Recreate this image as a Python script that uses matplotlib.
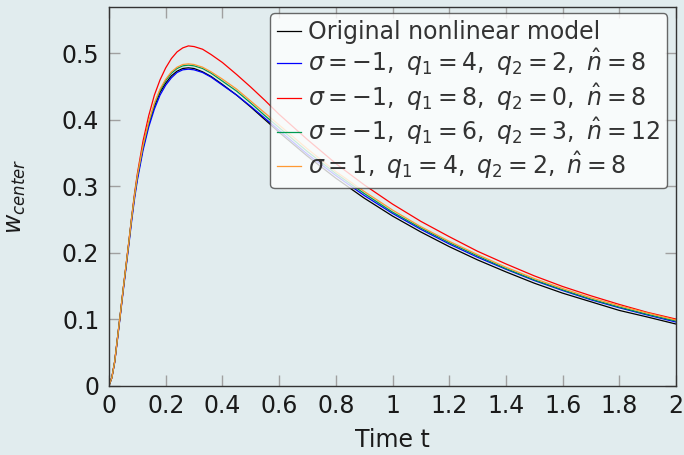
import numpy as np
import matplotlib
matplotlib.use("Agg")
import matplotlib.pyplot as plt

plt.rcParams['font.family'] = ['DejaVu Sans']
plt.rcParams['mathtext.fontset'] = 'dejavusans'

# time samples and w_center values
t = [0, 0.01, 0.02, 0.03, 0.04, 0.05, 0.06, 0.07, 0.08, 0.09, 0.1, 0.12, 0.14, 0.16,
     0.18, 0.2, 0.22, 0.24, 0.26, 0.28, 0.3, 0.33, 0.36, 0.4, 0.45, 0.5, 0.55, 0.6,
     0.7, 0.8, 0.9, 1.0, 1.1, 1.2, 1.3, 1.4, 1.5, 1.6, 1.7, 1.8, 1.9, 2.0]

w_orig = [0, 0.012, 0.036, 0.072, 0.108, 0.145, 0.18, 0.215, 0.252, 0.285, 0.313, 0.358,
          0.393, 0.42, 0.441, 0.455, 0.466, 0.473, 0.477, 0.478, 0.477, 0.472, 0.465,
          0.453, 0.437, 0.419, 0.400, 0.381, 0.345, 0.312, 0.282, 0.255, 0.231, 0.209,
          0.189, 0.171, 0.154, 0.139, 0.126, 0.113, 0.103, 0.0925]
w_a = [0, 0.012, 0.035, 0.07, 0.106, 0.142, 0.177, 0.212, 0.248, 0.281, 0.309, 0.354,
       0.389, 0.416, 0.437, 0.452, 0.463, 0.471, 0.475, 0.476, 0.475, 0.471, 0.464,
       0.452, 0.437, 0.420, 0.402, 0.384, 0.348, 0.316, 0.286, 0.259, 0.235, 0.213,
       0.193, 0.175, 0.158, 0.143, 0.129, 0.117, 0.106, 0.0955]
w_b = [0, 0.012, 0.036, 0.072, 0.108, 0.145, 0.181, 0.217, 0.254, 0.289, 0.319, 0.368,
       0.406, 0.437, 0.46, 0.478, 0.492, 0.502, 0.508, 0.511, 0.510, 0.506, 0.498,
       0.486, 0.468, 0.449, 0.429, 0.408, 0.370, 0.334, 0.302, 0.273, 0.247, 0.224,
       0.202, 0.183, 0.165, 0.149, 0.135, 0.122, 0.110, 0.100]
w_c = [0, 0.012, 0.036, 0.072, 0.108, 0.145, 0.18, 0.216, 0.253, 0.286, 0.315, 0.36,
       0.395, 0.423, 0.444, 0.459, 0.47, 0.477, 0.481, 0.482, 0.481, 0.477, 0.47,
       0.458, 0.443, 0.425, 0.406, 0.388, 0.352, 0.319, 0.289, 0.261, 0.237, 0.215,
       0.195, 0.176, 0.159, 0.144, 0.130, 0.118, 0.107, 0.097]
w_d = [0, 0.012, 0.036, 0.072, 0.108, 0.145, 0.181, 0.216, 0.253, 0.286, 0.316, 0.361,
       0.397, 0.425, 0.446, 0.461, 0.472, 0.479, 0.483, 0.484, 0.483, 0.479, 0.472,
       0.461, 0.446, 0.428, 0.410, 0.392, 0.356, 0.322, 0.292, 0.264, 0.239, 0.217,
       0.197, 0.178, 0.161, 0.146, 0.132, 0.120, 0.109, 0.0985]

labels = ["Original nonlinear model",
          r"$\sigma=-1,\ q_1=4,\ q_2=2,\ \hat{n}=8$",
          r"$\sigma=-1,\ q_1=8,\ q_2=0,\ \hat{n}=8$",
          r"$\sigma=-1,\ q_1=6,\ q_2=3,\ \hat{n}=12$",
          r"$\sigma=1,\ q_1=4,\ q_2=2,\ \hat{n}=8$"]
colors = ["black", "#0000ff", "#ff0000", "#009a50", "#ff9933"]

xticks = [0, 0.2, 0.4, 0.6, 0.8, 1, 1.2, 1.4, 1.6, 1.8, 2]
xticklabels = ["0", "0.2", "0.4", "0.6", "0.8", "1", "1.2", "1.4", "1.6", "1.8", "2"]
yticks = [0, 0.1, 0.2, 0.3, 0.4, 0.5]
yticklabels = ["0", "0.1", "0.2", "0.3", "0.4", "0.5"]

bg = "#e1ecee"
fig = plt.figure(figsize=(6.84, 4.55), dpi=100, facecolor=bg)
ax = fig.add_axes([0.1594, 0.1527, 0.8289, 0.8326])
ax.set_facecolor(bg)

for w, c, lab in zip([w_orig, w_a, w_b, w_c, w_d], colors, labels):
    ax.plot(t, w, color=c, lw=0.9, label=lab)

ax.set_xlim(0, 2)
ax.set_ylim(0, 0.57)
ax.set_xticks(xticks)
ax.set_xticklabels(xticklabels)
ax.set_yticks(yticks)
ax.set_yticklabels(yticklabels)
ax.tick_params(which='both', direction='in', top=True, right=True, length=8,
               width=1, color='#a0a0a0', labelsize=17, labelcolor='#1a1a1a')
ax.tick_params(axis='x', pad=6)
ax.tick_params(axis='y', pad=7)
for s in ax.spines.values():
    s.set_color('#333333')
    s.set_linewidth(1)

ax.set_xlabel("Time t", fontsize=17, color='#1a1a1a', labelpad=7)
ax.set_ylabel(r"$w_{center}$", fontsize=17, color='#1a1a1a', labelpad=24)

leg = ax.legend(loc='upper right', bbox_to_anchor=(0.985, 0.983), fontsize=17,
                handlelength=1.0, handletextpad=0.3, borderpad=0.3, labelspacing=0.12,
                borderaxespad=0.0, frameon=True, fancybox=True, framealpha=0.8)
leg.get_frame().set_facecolor('white')
leg.get_frame().set_edgecolor('#444444')
leg.get_frame().set_linewidth(1)
for txt in leg.get_texts():
    txt.set_color('#333333')

fig.savefig("out.png", dpi=100, facecolor=bg)
